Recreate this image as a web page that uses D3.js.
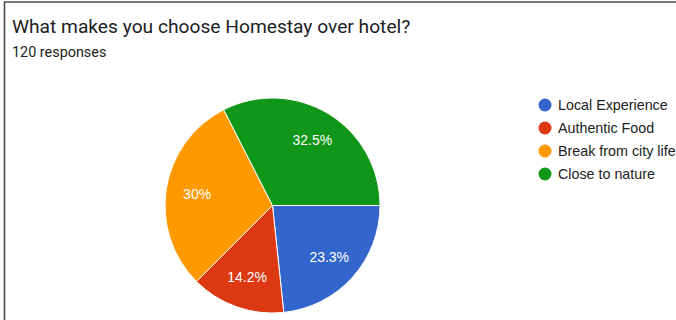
<!DOCTYPE html>
<html>
<head>
<meta charset="utf-8">
<script src="https://cdn.jsdelivr.net/npm/d3@7"></script>
<style>
  html, body { margin: 0; padding: 0; background: #fff; overflow: hidden; }
  svg { display: block; }
</style>
</head>
<body>
<svg id="chart" width="676" height="320"></svg>
<script>
// Survey answers (120 responses)
const categories = ["Local Experience", "Authentic Food", "Break from city life", "Close to nature"];
const counts = [28, 17, 36, 39];
const percentLabels = ["23.3%", "14.2%", "30%", "32.5%"];
const colors = ["#3366cc", "#dc3912", "#ff9900", "#109618"];

const title = "What makes you choose Homestay over hotel?";
const subtitle = "120 responses";

const W = 676, H = 320;
const svg = d3.select("#chart");

svg.append("rect").attr("width", W).attr("height", H).attr("fill", "#fff");

// card frame (top and left edges visible)
svg.append("path")
  .attr("d", `M4.5,${H} L4.5,2 L${W},2`)
  .attr("fill", "none")
  .attr("stroke", "#4a4a4a")
  .attr("stroke-width", 1.6);

svg.append("text")
  .attr("x", 12).attr("y", 33)
  .attr("font-family", "Roboto, sans-serif")
  .attr("font-size", 19.2)
  .attr("fill", "#202124")
  .text(title);

svg.append("text")
  .attr("x", 12).attr("y", 57)
  .attr("font-family", "Roboto, sans-serif")
  .attr("font-size", 14.4)
  .attr("fill", "#202124")
  .text(subtitle);

// pie
const cx = 272.5, cy = 205.5, r = 107.5;
const data = categories.map((c, i) => ({ name: c, value: counts[i], label: percentLabels[i], color: colors[i] }));

const pie = d3.pie()
  .value(d => d.value)
  .sort(null)
  .startAngle(Math.PI / 2)
  .endAngle(Math.PI / 2 + 2 * Math.PI);

const arc = d3.arc().innerRadius(0).outerRadius(r);
const labelArc = d3.arc().innerRadius(r * 0.71).outerRadius(r * 0.71);

const g = svg.append("g").attr("transform", `translate(${cx},${cy})`);
const arcs = pie(data);

g.selectAll("path.slice")
  .data(arcs)
  .join("path")
  .attr("class", "slice")
  .attr("d", arc)
  .attr("fill", d => d.data.color)
  .attr("stroke", "#fff")
  .attr("stroke-width", 1);

g.selectAll("text.pct")
  .data(arcs)
  .join("text")
  .attr("class", "pct")
  .attr("transform", d => `translate(${labelArc.centroid(d)})`)
  .attr("text-anchor", "middle")
  .attr("dy", "0.36em")
  .attr("font-family", "Arial, 'Liberation Sans', sans-serif")
  .attr("font-size", 14)
  .attr("fill", "#fff")
  .text(d => d.data.label);

// legend
const legendY = d3.scalePoint().domain(categories).range([105, 174]);
const legend = svg.append("g");
const items = legend.selectAll("g")
  .data(data)
  .join("g")
  .attr("transform", d => `translate(545,${legendY(d.name)})`);

items.append("circle")
  .attr("r", 6.5)
  .attr("fill", d => d.color);

items.append("text")
  .attr("x", 13)
  .attr("dy", "0.36em")
  .attr("font-family", "Arial, 'Liberation Sans', sans-serif")
  .attr("font-size", 14.3)
  .attr("fill", "#222")
  .text(d => d.name);
</script>
</body>
</html>
